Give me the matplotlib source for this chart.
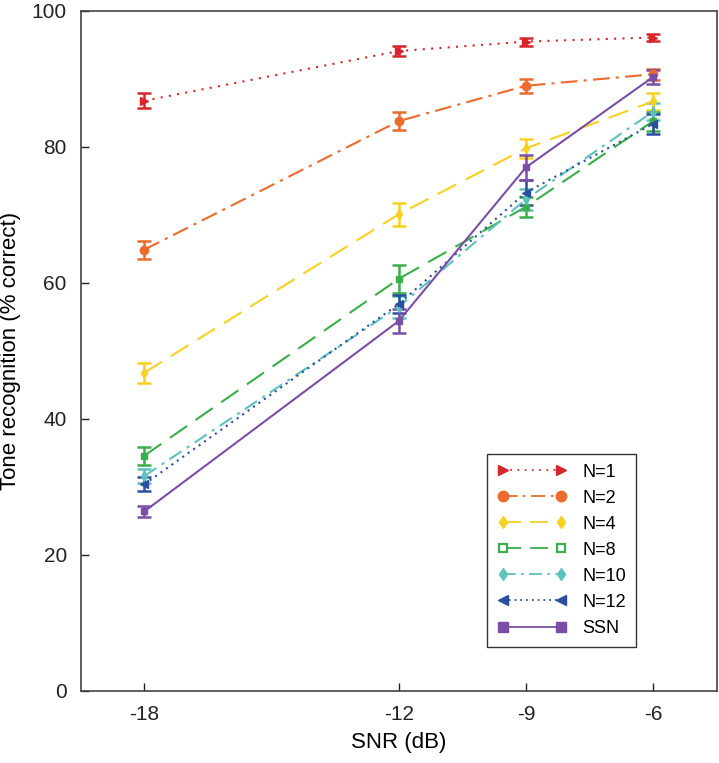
import matplotlib
matplotlib.use("Agg")
import matplotlib.pyplot as plt
from matplotlib.lines import Line2D

plt.rcParams['font.family'] = ['Liberation Sans', 'DejaVu Sans']

snr = [-18, -12, -9, -6]
labels = ["N=1", "N=2", "N=4", "N=8", "N=10", "N=12", "SSN"]

n1 = [86.8, 94.1, 95.5, 96.1]
n1_err = [1.1, 0.7, 0.6, 0.5]
n2 = [64.9, 83.8, 89.0, 90.7]
n2_err = [1.3, 1.3, 1.0, 0.8]
n4 = [46.8, 70.1, 79.8, 86.7]
n4_err = [1.5, 1.7, 1.4, 1.3]
n8 = [34.6, 60.6, 71.2, 83.8]
n8_err = [1.3, 2.0, 1.5, 1.4]
n10 = [31.6, 56.5, 72.3, 85.2]
n10_err = [1.0, 1.6, 1.5, 1.3]
n12 = [30.4, 56.9, 73.3, 83.4]
n12_err = [1.0, 1.3, 1.8, 1.5]
ssn = [26.4, 54.4, 77.0, 90.3]
ssn_err = [0.8, 1.8, 1.8, 1.0]

series = [n1, n2, n4, n8, n10, n12, ssn]
errors = [n1_err, n2_err, n4_err, n8_err, n10_err, n12_err, ssn_err]

colors = ['#d7262b', '#ec6a2c', '#f7d11e', '#3aae4a', '#5cc2bd', '#2b4f9e', '#7a4ea6']
styles = [(0, (1, 3)), (0, (8, 3, 1.5, 3)), (0, (10, 5)), (0, (10, 5)),
          (0, (7, 3, 1.5, 3)), (0, (1, 2.2)), '-']
markers = ['>', 'o', 'd', 's', 'd', '<', 's']
msizes = [5.5, 6, 5, 4.5, 5, 5.5, 5]
mfc_leg = [None, None, None, 'white', None, None, None]

fig = plt.figure(figsize=(7.19, 7.63), dpi=100)
ax = fig.add_axes([0.1122, 0.0944, 0.8846, 0.8912])

for y, e, c, ls, m, ms in zip(series, errors, colors, styles, markers, msizes):
    ax.errorbar(snr, y, yerr=e, color=c, linestyle=ls, linewidth=1.5,
                marker=m, markersize=ms, capsize=5, capthick=1.8,
                elinewidth=1.8)

handles = []
for lab, c, ls, m, ms, fc in zip(labels, colors, styles, markers, msizes, mfc_leg):
    h = Line2D([0], [0], color=c, linestyle=ls, linewidth=1.3, marker=m,
               markersize=ms + 1.5, markerfacecolor=(fc if fc else c),
               markeredgewidth=1.6 if fc else 1.0)
    handles.append(h)
leg = ax.legend(handles, labels, loc='lower right', bbox_to_anchor=(0.873, 0.065),
                borderaxespad=0, fontsize=13, numpoints=2, handlelength=3.8,
                labelspacing=0.5, fancybox=False, framealpha=1,
                edgecolor='#333333', borderpad=0.55, handletextpad=0.9)
leg.get_frame().set_linewidth(1.0)

ax.set_xlim(-19.5, -4.5)
ax.set_ylim(0, 100)
ax.set_xticks(snr)
ax.set_xticklabels([str(v) for v in snr])
ax.set_yticks([0, 20, 40, 60, 80, 100])
ax.tick_params(direction='in', length=6, width=1, labelsize=15, pad=10,
               colors='#222222')
for s in ax.spines.values():
    s.set_color('#444444')
    s.set_linewidth(1.2)
ax.set_xlabel('SNR (dB)', fontsize=16, labelpad=6)
ax.set_ylabel('Tone recognition (% correct)', fontsize=16, labelpad=8)

fig.savefig('out.png', dpi=100)
